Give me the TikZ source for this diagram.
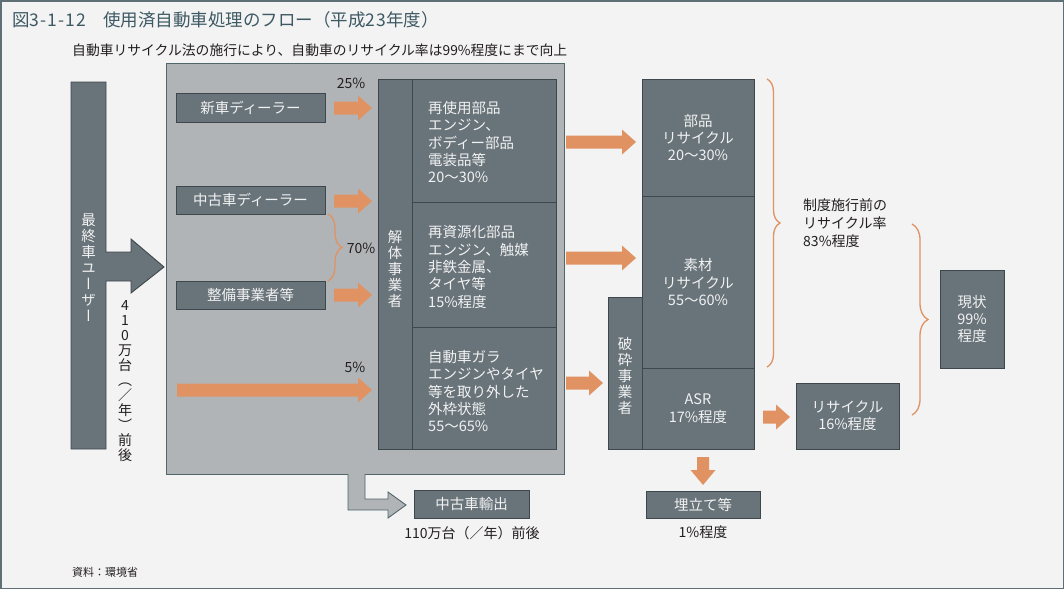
\documentclass[tikz,border=0pt]{standalone}
\usepackage{fontspec}
\setmainfont{Noto Sans CJK JP}
\newfontfamily\vfont[RawFeature=+vert]{Noto Sans CJK JP}
\usetikzlibrary{decorations.pathreplacing}
\definecolor{bg}{HTML}{F3F3F3}
\definecolor{boxc}{HTML}{68737A}
\definecolor{edgec}{HTML}{3E474C}
\definecolor{orng}{HTML}{E09262}
\definecolor{panel}{HTML}{B1B4B6}
\definecolor{paneledge}{HTML}{50666B}
\definecolor{txt}{HTML}{231F20}
\definecolor{titlec}{HTML}{3D5963}
\definecolor{wtxt}{HTML}{F2F2F2}
\definecolor{framec}{HTML}{5E7076}
\newcommand\farrow[3]{\fill[orng] (#1,#3-6.5) -- (#2-14,#3-6.5) -- (#2-14,#3-12.5) -- (#2,#3) -- (#2-14,#3+12.5) -- (#2-14,#3+6.5) -- (#1,#3+6.5) -- cycle;}
\tikzset{
  box/.style={draw=edgec, fill=boxc, line width=0.9pt, text=wtxt, inner sep=0pt, align=center,
    font=\fontsize{14.5}{17.4}\selectfont},
  wlabel/.style={text=wtxt, inner sep=0pt, align=left, font=\fontsize{14.5}{17.4}\selectfont},
  vlabel/.style={text=wtxt, inner sep=0pt, align=center, font=\vfont\fontsize{14.5}{16}\selectfont},
  dlabel/.style={text=txt, inner sep=0pt, font=\fontsize{14}{18}\selectfont},
  bracestyle/.style={draw=orng, line width=1.3pt, decorate},
}
\begin{document}
\begin{tikzpicture}[x=1pt,y=-1pt]
\useasboundingbox (0,0) rectangle (1064,589);
\fill[bg] (0,0) rectangle (1064,589);
\draw[framec, line width=1.5pt] (0.75,0.75) rectangle (1063.25,588.25);

% title
\node[anchor=west, inner sep=0pt, text=titlec, font=\fontsize{17.5}{19}\selectfont] (title) at (12,20) {図{\addfontfeature{LetterSpace=6}3-1-12}　使用済自動車処理のフロー（平成{\addfontfeature{LetterSpace=6}23}年度）};
\node[anchor=west, dlabel, font=\fontsize{13.8}{15}\selectfont] (sub) at (72,50) {自動車リサイクル法の施行により、自動車のリサイクル率は99\%程度にまで向上};

% panel
\draw[fill=panel, draw=paneledge, line width=0.9pt] (166,63) rectangle (564,474);
\fill[panel] (348,473) -- (348,510) -- (388,510) -- (388,518) -- (406,505) -- (388,492) -- (388,499) -- (365,499) -- (365,473) -- cycle;
\draw[paneledge, line width=0.9pt] (348,474) -- (348,510) -- (388,510) -- (388,518) -- (406,505) -- (388,492) -- (388,499) -- (365,499) -- (365,474);

% end user
\draw[fill=boxc, draw=edgec, line width=0.9pt] (71,82) -- (106,82) -- (106,252) -- (131,252) -- (131,239) -- (164,267) -- (131,293) -- (131,281) -- (106,281) -- (106,449) -- (71,449) -- cycle;
\node[vlabel] (user) at (88.5,268) {最\\終\\車\\ユ\\ー\\ザ\\ー};
\node[dlabel, align=center, font=\vfont\fontsize{14}{15}\selectfont] (n410) at (125,381) {4\\1\\0\\万\\台\\（\\／\\年\\）\\前\\後};

% dealers
\node[box, minimum width=149, minimum height=29] (d1) at (250.5,107.5) {新車ディーラー};
\node[box, minimum width=149, minimum height=28] (d2) at (250.5,200) {中古車ディーラー};
\node[box, minimum width=149, minimum height=28] (d3) at (250.5,295) {整備事業者等};
\farrow{334}{372}{108}
\farrow{334}{372}{201}
\farrow{334}{372}{295}
\farrow{177}{372}{390}
\node[dlabel] (p25) at (351,83) {25\%};
\node[dlabel] (p70) at (361,248) {70\%};
\node[dlabel] (p5) at (355,367) {5\%};
\draw[bracestyle, decoration={brace, amplitude=14}] (328,214) -- (328,281);

% dismantlers
\node[box, minimum width=34, minimum height=370] (kaitai) at (395,264) {};
\node[vlabel] (kaitaitxt) at (395,269) {解\\体\\事\\業\\者};
\node[box, minimum width=144, minimum height=123] (r1) at (484,140.5) {};
\node[box, minimum width=144, minimum height=125] (r2) at (484,264.5) {};
\node[box, minimum width=144, minimum height=122] (r3) at (484,388) {};
\node[wlabel, anchor=west] (r1t) at (428,142) {再使用部品\\エンジン、\\ボディー部品\\電装品等\\20〜30\%};
\node[wlabel, anchor=west] (r2t) at (428,267) {再資源化部品\\エンジン、触媒\\非鉄金属、\\タイヤ等\\15\%程度};
\node[wlabel, anchor=west] (r3t) at (428,391) {自動車ガラ\\エンジンやタイヤ\\等を取り外した\\外枠状態\\55〜65\%};

\farrow{566}{636}{142}
\farrow{566}{636}{258}
\farrow{566}{603}{383}

% shredders / recycling
\node[box, minimum width=112, minimum height=117] (q1) at (698,137.5) {部品\\リサイクル\\20〜30\%};
\node[box, minimum width=112, minimum height=172] (q2) at (698,282) {素材\\リサイクル\\55〜60\%};
\node[box, minimum width=112, minimum height=81] (q3) at (698,408.5) {ASR\\17\%程度};
\node[box, minimum width=34, minimum height=152] (hasai) at (625,373) {};
\node[vlabel] (hasaitxt) at (625,376) {破\\砕\\事\\業\\者};

\fill[orng] (697,457) -- (709,457) -- (709,470) -- (715.5,470) -- (703,485) -- (690.5,470) -- (697,470) -- cycle;
\node[box, minimum width=114, minimum height=27] (ume) at (703,504.5) {埋立て等};
\node[dlabel] (p1) at (703,532) {1\%程度};

\farrow{763}{790}{417}
\node[box, minimum width=103, minimum height=66] (rec) at (847.5,416) {リサイクル\\16\%程度};
\node[box, minimum width=64, minimum height=98] (now) at (972,319) {現状\\99\%\\程度};

\draw[bracestyle, decoration={brace, amplitude=13}] (767,79) -- (767,367);
\node[dlabel, anchor=west, align=left, font=\fontsize{14}{18}\selectfont] (before) at (803,223) {制度施行前の\\リサイクル率\\83\%程度};
\draw[bracestyle, decoration={brace, amplitude=16}] (912,224) -- (912,415);

% export
\node[box, minimum width=115, minimum height=28] (exp) at (471.5,504) {中古車輸出};
\node[dlabel] (p110) at (472,533) {110万台（／年）前後};

\node[dlabel, anchor=west, font=\fontsize{11}{13}\selectfont] (src) at (72,572) {資料：環境省};
\end{tikzpicture}
\end{document}
